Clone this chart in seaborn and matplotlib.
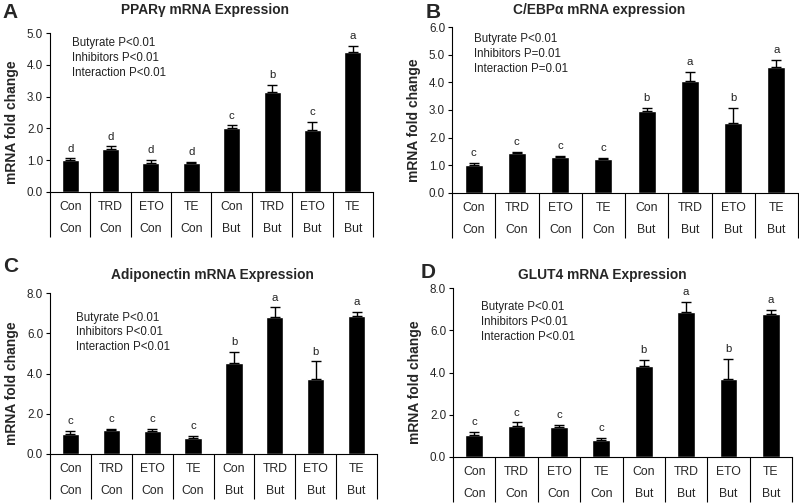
import numpy as np
import pandas as pd
import seaborn as sns
import matplotlib.pyplot as plt

sns.set_style("ticks")
plt.rcParams['font.family'] = ['Liberation Sans', 'DejaVu Sans']

# x categories: inhibitor (top row) / butyrate (bottom row)
inhibitor = ['Con', 'TRD', 'ETO', 'TE', 'Con', 'TRD', 'ETO', 'TE']
butyrate = ['Con', 'Con', 'Con', 'Con', 'But', 'But', 'But', 'But']

ppar_mean = [1.00, 1.35, 0.92, 0.92, 2.00, 3.16, 1.96, 4.40]
ppar_sem = [0.05, 0.08, 0.07, 0.03, 0.09, 0.22, 0.23, 0.20]
ppar_sig = ['d', 'd', 'd', 'd', 'c', 'b', 'c', 'a']

cebp_mean = [1.00, 1.45, 1.30, 1.24, 2.95, 4.05, 2.54, 4.56]
cebp_sem = [0.09, 0.03, 0.02, 0.02, 0.12, 0.33, 0.53, 0.25]
cebp_sig = ['c', 'c', 'c', 'c', 'b', 'a', 'b', 'a']

adipo_mean = [1.01, 1.20, 1.15, 0.81, 4.55, 6.84, 3.72, 6.89]
adipo_sem = [0.14, 0.03, 0.08, 0.09, 0.53, 0.46, 0.89, 0.20]
adipo_sig = ['c', 'c', 'c', 'c', 'b', 'a', 'b', 'a']

glut_mean = [1.03, 1.47, 1.39, 0.81, 4.31, 6.89, 3.69, 6.78]
glut_sem = [0.16, 0.16, 0.12, 0.08, 0.27, 0.45, 0.95, 0.21]
glut_sig = ['c', 'c', 'c', 'c', 'b', 'a', 'b', 'a']

fig = plt.figure(figsize=(7.99, 5.03), dpi=100)

W, H = 799, 503


def panel(px_left, px_right, px_top, px_zero, mean, sem, sig, ymax, ystep,
          title, title_xy, letter, letter_xy, stats, stats_xy):
    ax = fig.add_axes([px_left / W, 1 - px_zero / H, (px_right - px_left) / W,
                       (px_zero - px_top) / H])
    groups = [f'{a}\n{b}' for a, b in zip(inhibitor, butyrate)]
    df = pd.DataFrame({'group': groups, 'fold': mean})
    sns.barplot(data=df, x='group', y='fold', color='black', saturation=1,
                width=0.42, errorbar=None, ax=ax)
    x = np.arange(len(mean))
    ax.errorbar(x, mean, yerr=[np.zeros(len(sem)), sem], fmt='none',
                ecolor='black', elinewidth=1, capsize=3.5, capthick=1)
    for xi, m, s, t in zip(x, mean, sem, sig):
        ax.annotate(t, (xi, m + s), xytext=(0, 3.5), textcoords='offset points',
                    ha='center', va='bottom', fontsize=8.2, color='#222222')
    ax.set_xlim(-0.5, 7.5)
    ax.set_ylim(0, ymax)
    ax.set_yticks(np.arange(0, ymax + 0.01, ystep))
    ax.set_yticklabels([f'{v:.1f}' for v in np.arange(0, ymax + 0.01, ystep)])
    ax.set_xticks(np.arange(-0.5, 8), minor=True)
    ax.tick_params(axis='x', which='minor', length=32.5, width=0.8,
                   direction='out', color='black')
    ax.tick_params(axis='x', which='major', length=0, pad=6.5, labelsize=8.8)
    for lab in ax.get_xticklabels():
        lab.set_linespacing(2.1)
    ax.tick_params(axis='y', length=3, width=0.8, labelsize=8.4, pad=2,
                   color='black')
    ax.set_xlabel('')
    ax.set_ylabel('mRNA fold change', fontsize=10, fontweight='bold')
    ax.yaxis.set_label_coords(-31 / (px_right - px_left), 0.44)
    sns.despine(ax=ax)
    for sp in ['left', 'bottom']:
        ax.spines[sp].set_linewidth(0.8)
        ax.spines[sp].set_color('black')
    ax.text(stats_xy[0], stats_xy[1], stats, transform=ax.transAxes,
            ha='left', va='top', fontsize=8.3, linespacing=1.32, color='#222222')
    fig.text(title_xy[0] / W, 1 - title_xy[1] / H, title, ha='center',
             va='center', fontsize=9.9, fontweight='bold')
    fig.text(letter_xy[0] / W, 1 - letter_xy[1] / H, letter, ha='left',
             va='center', fontsize=15, fontweight='bold')
    return ax


panel(50, 373, 33.3, 191.7, ppar_mean, ppar_sem, ppar_sig, 5, 1,
      'PPARγ mRNA Expression', (205, 10), 'A', (2, 12),
      'Butyrate P<0.01\nInhibitors P<0.01\nInteraction P<0.01', (0.068, 0.975))
panel(452, 798, 27.3, 192.7, cebp_mean, cebp_sem, cebp_sig, 6, 1,
      'C/EBPα mRNA expression', (599, 10), 'B', (426, 12),
      'Butyrate P<0.01\nInhibitors P=0.01\nInteraction P=0.01', (0.064, 0.966))
panel(50, 377, 293.3, 454, adipo_mean, adipo_sem, adipo_sig, 8, 2,
      'Adiponectin mRNA Expression', (212, 275), 'C', (3, 267),
      'Butyrate P<0.01\nInhibitors P<0.01\nInteraction P<0.01', (0.079, 0.886))
panel(453, 792, 288.3, 456.7, glut_mean, glut_sem, glut_sig, 8, 2,
      'GLUT4 mRNA Expression', (602, 275), 'D', (421, 272),
      'Butyrate P<0.01\nInhibitors P<0.01\nInteraction P<0.01', (0.083, 0.925))

fig.savefig('out.png', dpi=100)
